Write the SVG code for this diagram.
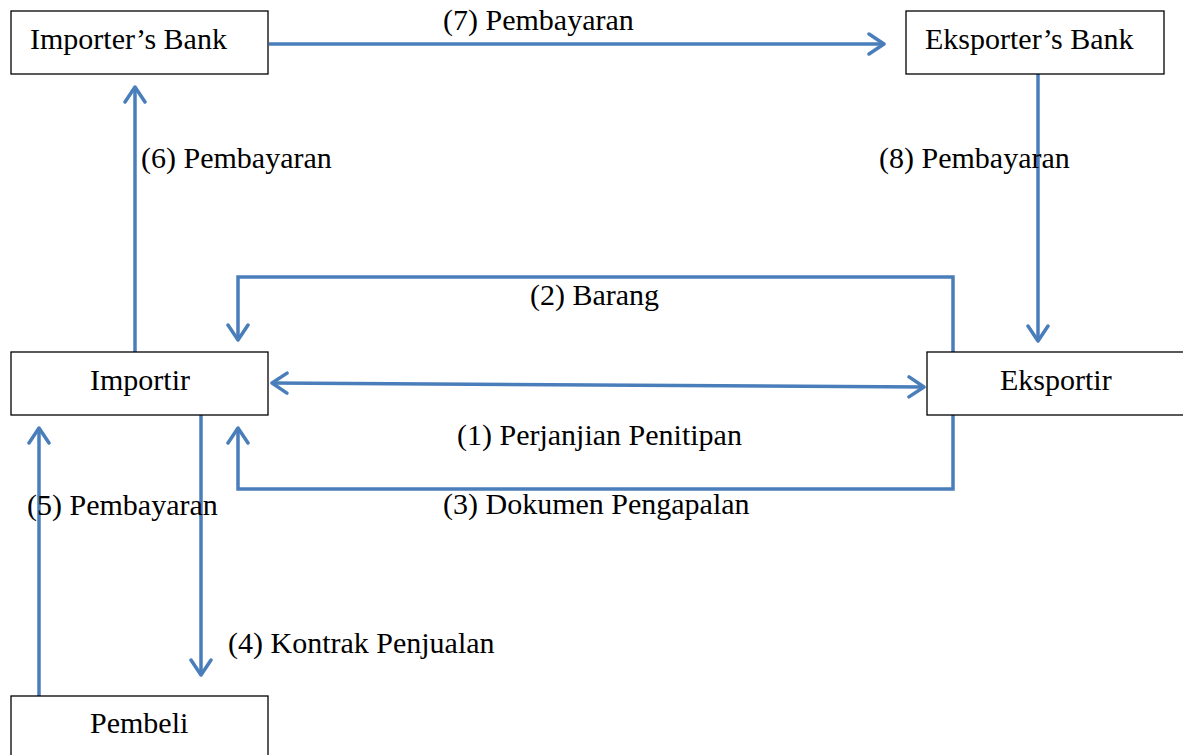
<svg xmlns="http://www.w3.org/2000/svg" width="1183" height="755" viewBox="0 0 1183 755">
  <style>
    .box { fill: #ffffff; stroke: #000000; stroke-width: 1.3; }
    .lbl { font-family: "Liberation Serif", "Times New Roman", serif; font-size: 30px; fill: #000000; }
    .wire { fill: none; stroke: #4a7ebb; stroke-width: 3.5; }
  </style>
  <defs>
    <marker id="head" viewBox="0 0 20 24" refX="18" refY="12" markerWidth="20" markerHeight="24" markerUnits="userSpaceOnUse" orient="auto-start-reverse">
      <path d="M3,2 L18,12 L3,22" fill="none" stroke="#4a7ebb" stroke-width="3.5" stroke-linecap="round" stroke-linejoin="round"/>
    </marker>
  </defs>
  <rect width="1183" height="755" fill="#ffffff"/>

  <g id="connectors">
    <!-- (7) importer's bank to exporter's bank -->
    <line class="wire" x1="269" y1="44" x2="884" y2="44" marker-end="url(#head)"/>
    <!-- (6) importir up to importer's bank -->
    <line class="wire" x1="135" y1="352" x2="135" y2="87" marker-end="url(#head)"/>
    <!-- (8) exporter's bank down to eksportir -->
    <line class="wire" x1="1038" y1="74" x2="1038" y2="341" marker-end="url(#head)"/>
    <!-- (2) goods -->
    <polyline class="wire" points="953,352 953,277 238,277 238,340" marker-end="url(#head)"/>
    <!-- (1) agreement, both ways -->
    <line class="wire" x1="272" y1="383" x2="924" y2="387" marker-start="url(#head)" marker-end="url(#head)"/>
    <!-- (3) shipping documents -->
    <polyline class="wire" points="953,415 953,489 238,489 238,428" marker-end="url(#head)"/>
    <!-- (4) sales contract -->
    <line class="wire" x1="201" y1="415" x2="201" y2="675" marker-end="url(#head)"/>
    <!-- (5) buyer payment -->
    <line class="wire" x1="39" y1="696" x2="39" y2="428" marker-end="url(#head)"/>
  </g>

  <g id="importers-bank">
    <rect class="box" x="11" y="11" width="257" height="63"/>
    <text class="lbl" x="30" y="49">Importer’s Bank</text>
  </g>
  <g id="eksporters-bank">
    <rect class="box" x="906" y="11" width="258" height="63"/>
    <text class="lbl" x="925" y="49">Eksporter’s Bank</text>
  </g>
  <g id="importir">
    <rect class="box" x="11" y="352" width="257" height="63"/>
    <text class="lbl" x="90" y="390">Importir</text>
  </g>
  <g id="eksportir">
    <rect class="box" x="927" y="352" width="270" height="63"/>
    <text class="lbl" x="1000" y="390">Eksportir</text>
  </g>
  <g id="pembeli">
    <rect class="box" x="11" y="696" width="257" height="70"/>
    <text class="lbl" x="90" y="733">Pembeli</text>
  </g>

  <g id="labels">
    <text class="lbl" x="443" y="30">(7) Pembayaran</text>
    <text class="lbl" x="141" y="168">(6) Pembayaran</text>
    <text class="lbl" x="879" y="168">(8) Pembayaran</text>
    <text class="lbl" x="530" y="305">(2) Barang</text>
    <text class="lbl" x="457" y="445">(1) Perjanjian Penitipan</text>
    <text class="lbl" x="443" y="514">(3) Dokumen Pengapalan</text>
    <text class="lbl" x="27" y="515">(5) Pembayaran</text>
    <text class="lbl" x="228" y="653">(4) Kontrak Penjualan</text>
  </g>
</svg>
